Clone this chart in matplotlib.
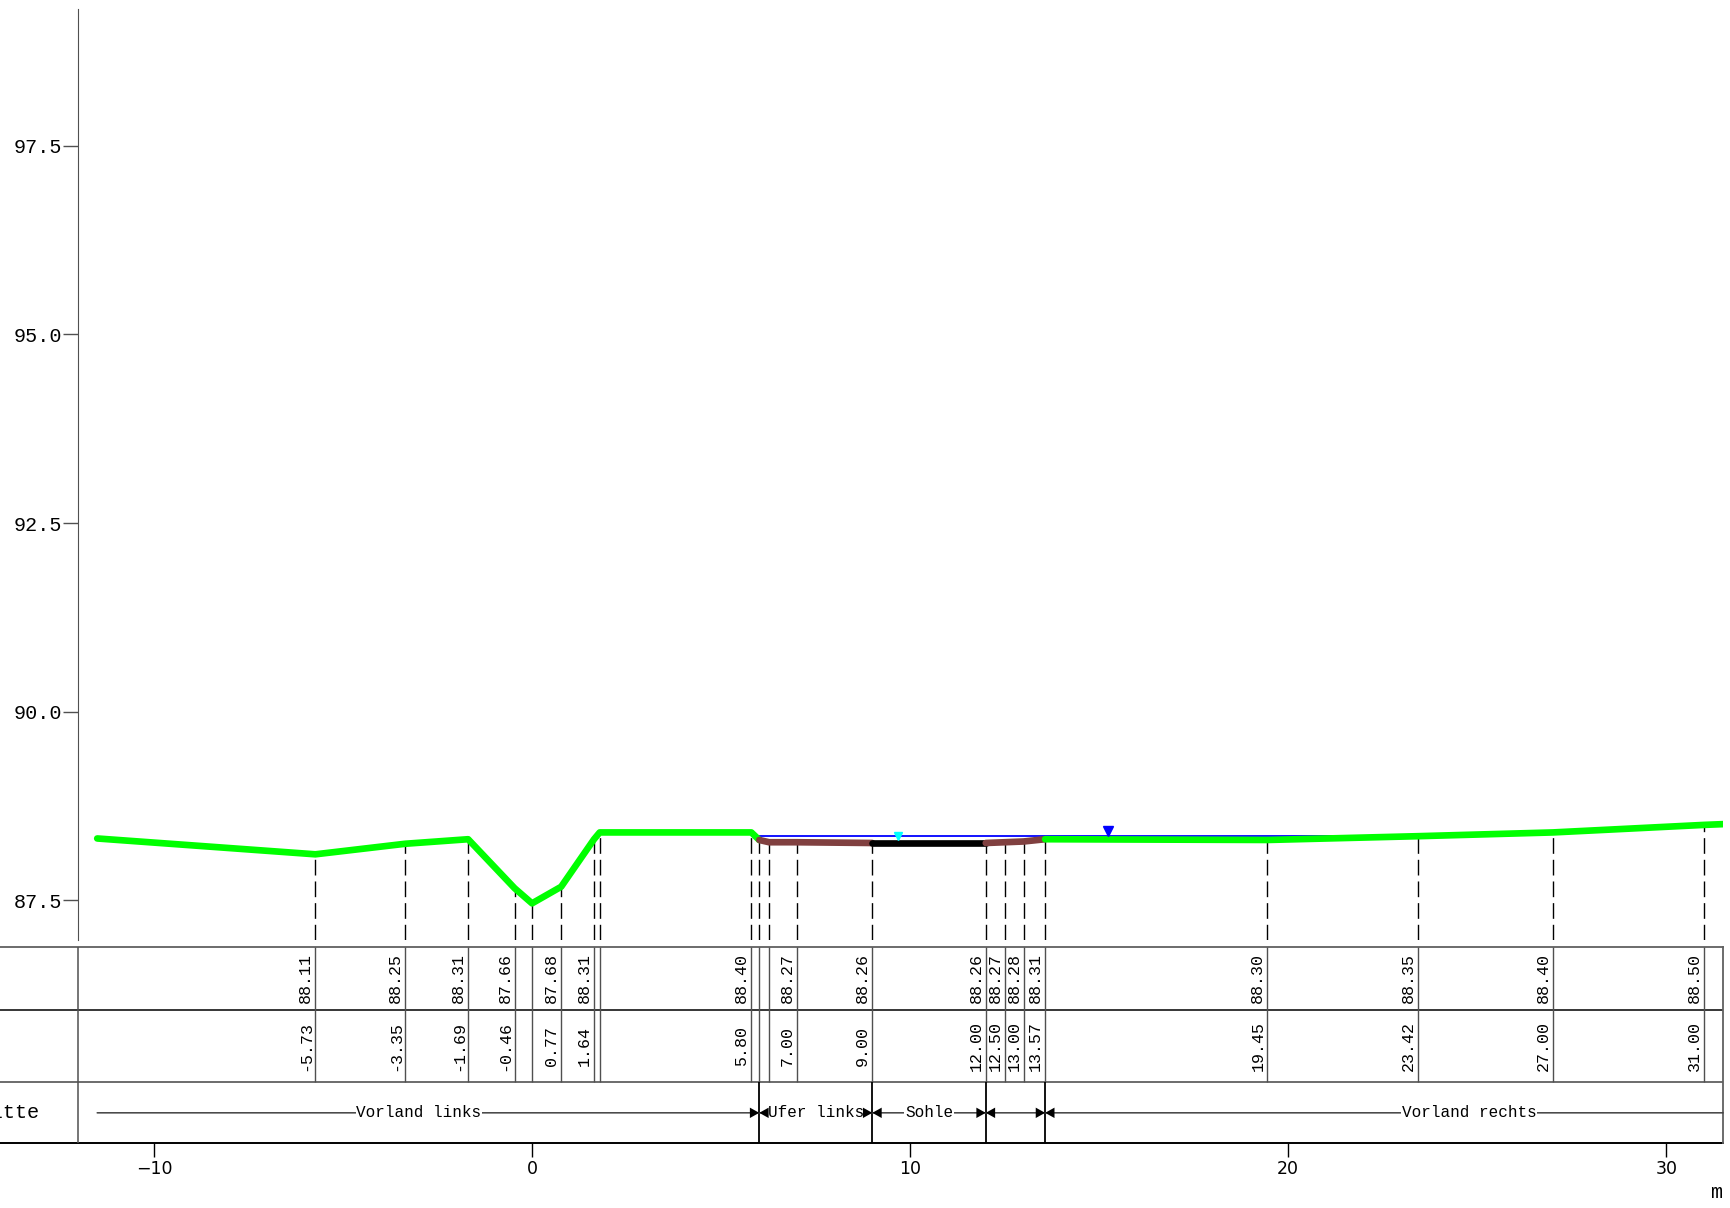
import numpy as np
import matplotlib
matplotlib.use('Agg')
import matplotlib.pyplot as plt

# profile points: station [m], elevation [m]
station = [-11.5, -5.73, -3.35, -1.69, -0.46, 0.0, 0.77, 1.64, 1.79, 5.80, 6.01, 6.27,
           7.00, 9.00, 12.00, 12.50, 13.00, 13.57, 19.45, 23.42, 27.00, 31.00, 31.5]
elevation = [88.32, 88.11, 88.25, 88.31, 87.66, 87.46, 87.68, 88.31, 88.40, 88.40, 88.30, 88.27,
             88.27, 88.26, 88.26, 88.27, 88.28, 88.31, 88.30, 88.35, 88.40, 88.50, 88.51]
# which points get a value in the table
labeled = [False, True, True, True, True, False, True, True, False, True, False, False,
           True, True, True, True, True, True, True, True, True, True, False]

# sections (Abschnitte)
sec_names = ['Vorland links', 'Ufer links', 'Sohle', '', 'Vorland rechts']
sec_bounds = [-12.0, 6.01, 9.00, 12.00, 13.57, 36.0]
sec_colors = ['#00ff00', '#804040', '#000000', '#804040', '#00ff00']

# water level
wsp = 88.355
wsp_from, wsp_to = 5.89, 23.7
wsp_mark = (15.23, 88.425)
mid_mark = (9.69, 88.355)

yticks = [87.5, 90.0, 92.5, 95.0, 97.5]
xticks = [-10, 0, 10, 20, 30]

mono = 'Liberation Mono'
st = np.array(station)
el = np.array(elevation)

fig = plt.figure(figsize=(17.3, 12.08), dpi=100)

# main profile axes
ax = fig.add_axes([0.04526, 0.2219, 0.996 - 0.04526, 0.9923 - 0.2219])
ax.set_xlim(-12, 31.5)
ax.set_ylim(86.975, 99.31)
for s in ['top', 'right', 'bottom']:
    ax.spines[s].set_visible(False)
ax.spines['left'].set_color('#505050')
ax.set_xticks([])
ax.set_yticks(yticks)
ax.set_yticklabels([f'{v:.1f}' for v in yticks], family=mono, fontsize=14.5)
ax.tick_params(axis='y', length=10.8, width=1, color='#505050', pad=1)

# dashed verticals from bottom up to the profile
inner = np.arange(1, len(st) - 1)
ax.vlines(st[inner], 86.975, el[inner], colors='black', lw=1,
          linestyles=[(0, (11.3, 4.3))], zorder=1)

# water level
ax.hlines(wsp, wsp_from, wsp_to, colors='#0000ff', lw=1.3, zorder=2)

# profile, one piece per section
for i, c in enumerate(sec_colors):
    m = (st >= sec_bounds[i] - 1e-9) & (st <= sec_bounds[i + 1] + 1e-9)
    ax.plot(st[m], el[m], color=c, lw=4.8, solid_capstyle='round',
            solid_joinstyle='round', zorder=3 + i * 0.1)

ax.plot(*wsp_mark, marker='v', color='#0000ff', ms=7, zorder=5)
ax.plot(*mid_mark, marker='v', color='#00ffff', ms=6, zorder=5)

# table below
tx = fig.add_axes([0, 0.05364, 0.996, 0.21639 - 0.05364])
tx.set_xlim(-14.07, 31.5)
tx.set_ylim(0, 1)
for s in tx.spines.values():
    s.set_visible(False)
tx.set_yticks([])
tx.set_xticks(xticks)
tx.tick_params(axis='x', length=10.4, width=1, pad=2, labelsize=12.5)

r1, r2 = 0.68, 0.309
tx.axhline(1, color='#606060', lw=1.3, clip_on=False)
tx.axhline(r1, color='black', lw=1.1)
tx.axhline(r2, color='#606060', lw=1.3)
tx.axhline(0, color='black', lw=1.4, clip_on=False)
tx.axvline(31.5, color='#606060', lw=1.3, clip_on=False)
tx.axvline(-12, color='#505050', lw=1.1)

tx.vlines(st[inner], r2, 1, colors='#505050', lw=1)
tx.vlines(sec_bounds[1:-1], 0, r2, colors='black', lw=1.3)

for s, e, lab in zip(station, elevation, labeled):
    if not lab:
        continue
    tx.annotate(f'{e:.2f}', xy=(s, (1 + r1) / 2), xytext=(-1.5, 0), textcoords='offset points',
                rotation=90, ha='right', va='center', family=mono, fontsize=12)
    tx.annotate(f'{s:.2f}', xy=(s, (r1 + r2) / 2), xytext=(-1.5, 0), textcoords='offset points',
                rotation=90, ha='right', va='center', family=mono, fontsize=12)

# section row: line, label, then arrow heads on top
ys = r2 / 2
n = len(sec_names)
head = ',head_length=0.45,head_width=0.25'
for i, name in enumerate(sec_names):
    a, b = sec_bounds[i], sec_bounds[i + 1]
    x0 = max(a, st[0])
    x1 = min(b, 31.5)
    if i == 0:
        style = '-|>'
    elif i == n - 1:
        style = '<|-'
    else:
        style = '<|-|>'
    tx.annotate('', xy=(x1, ys), xytext=(x0, ys), zorder=2,
                arrowprops=dict(arrowstyle='-', lw=1.1, shrinkA=0, shrinkB=0, color='#404040'))
    tx.annotate('', xy=(x1, ys), xytext=(x0, ys), zorder=4,
                arrowprops=dict(arrowstyle=style + head, lw=0, shrinkA=0, shrinkB=0,
                                mutation_scale=15, fc='black', ec='none'))
    if name:
        tx.text((a + b) / 2, ys, name, ha='center', va='center', family=mono, fontsize=11.5,
                zorder=3, bbox=dict(fc='white', ec='none', pad=0.5))

# row label, cut at the left edge like in the original
fig.text(0.0225, 1 - 1112.7 / 1208, 'Abschnitte', ha='right', va='center', family=mono, fontsize=14.5)
fig.text(0.9955, 1 - 1193 / 1208, 'm', ha='right', va='center', family=mono, fontsize=14.5)

fig.savefig('out.png', dpi=100)
